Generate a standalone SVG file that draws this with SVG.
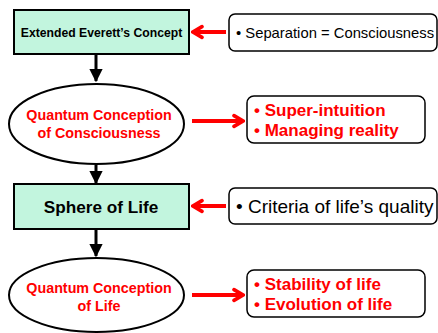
<svg xmlns="http://www.w3.org/2000/svg" width="438" height="333" viewBox="0 0 438 333">
<defs>
<marker id="blk" viewBox="0 0 10 10" refX="9" refY="5" markerWidth="4.4" markerHeight="4.4" orient="auto" markerUnits="strokeWidth"><path d="M0,0 L10,5 L0,10 Z" fill="#000"/></marker>
<marker id="red" viewBox="0 0 12 12" refX="10" refY="6" markerWidth="3.6" markerHeight="4.6" orient="auto" markerUnits="strokeWidth"><path d="M2.5,1.5 L10,6 L2.5,10.5" fill="none" stroke="#f00" stroke-width="3" stroke-linejoin="miter" stroke-linecap="round"/></marker>
</defs>
<style>
.sq{fill:#c2f5de;stroke:#000;stroke-width:2}
.el{fill:#fff;stroke:#000;stroke-width:2}
.rb{fill:#fff;stroke:#000;stroke-width:1.5}
.t{font-family:"Liberation Sans",Arial,sans-serif;font-weight:bold;text-anchor:middle}
.r{fill:#f00}
.k{fill:#000}
.n{font-family:"Liberation Sans",Arial,sans-serif}
.bl{stroke:#000;stroke-width:3;fill:none}
.rl{stroke:#f00;stroke-width:4;fill:none}
</style>
<rect width="438" height="333" fill="#fff"/>
<g id="connectors">
<line class="bl" x1="96" y1="55" x2="96" y2="81" marker-end="url(#blk)"/>
<line class="bl" x1="96" y1="165" x2="96" y2="183" marker-end="url(#blk)"/>
<line class="bl" x1="96" y1="230" x2="96" y2="256" marker-end="url(#blk)"/>
<line class="rl" x1="226" y1="32" x2="193" y2="32" marker-end="url(#red)"/>
<line class="rl" x1="192" y1="121" x2="243" y2="121" marker-end="url(#red)"/>
<line class="rl" x1="226" y1="206" x2="193" y2="206" marker-end="url(#red)"/>
<line class="rl" x1="192" y1="295" x2="243" y2="295" marker-end="url(#red)"/>
</g>
<g id="n1">
<rect class="sq" x="14" y="10" width="175" height="44"/>
<text class="t k" x="101.5" y="37" font-size="12.2">Extended Everett’s Concept</text>
</g>
<g id="n2">
<ellipse class="el" cx="96.5" cy="124" rx="87.5" ry="40"/>
<text class="t r" x="99" y="119.5" font-size="14.3">Quantum Conception</text>
<text class="t r" x="99" y="137.5" font-size="14.3">of Consciousness</text>
</g>
<g id="n3">
<rect class="sq" x="14" y="184" width="175" height="45"/>
<text class="t k" x="101" y="213" font-size="17.2">Sphere of Life</text>
</g>
<g id="n4">
<ellipse class="el" cx="96.5" cy="295" rx="87.5" ry="37"/>
<text class="t r" x="99" y="293" font-size="14.3">Quantum Conception</text>
<text class="t r" x="99" y="311" font-size="14.3">of Life</text>
</g>
<g id="b1">
<rect class="rb" x="229" y="14" width="208" height="37" rx="6"/>
<text class="n k" x="236" y="38" font-size="14.8">• Separation = Consciousness</text>
</g>
<g id="b2">
<rect class="rb" x="247" y="96" width="178" height="47" rx="7"/>
<text class="n r" x="254" y="116" font-size="17" font-weight="bold">• Super-intuition</text>
<text class="n r" x="254" y="136" font-size="17" font-weight="bold">• Managing reality</text>
</g>
<g id="b3">
<rect class="rb" x="229" y="188" width="208" height="36" rx="6"/>
<text class="n k" x="236" y="213" font-size="19">• Criteria of life’s quality</text>
</g>
<g id="b4">
<rect class="rb" x="247" y="270" width="178" height="47" rx="7"/>
<text class="n r" x="254" y="290" font-size="17" font-weight="bold">• Stability of life</text>
<text class="n r" x="254" y="310" font-size="17" font-weight="bold">• Evolution of life</text>
</g>
</svg>
